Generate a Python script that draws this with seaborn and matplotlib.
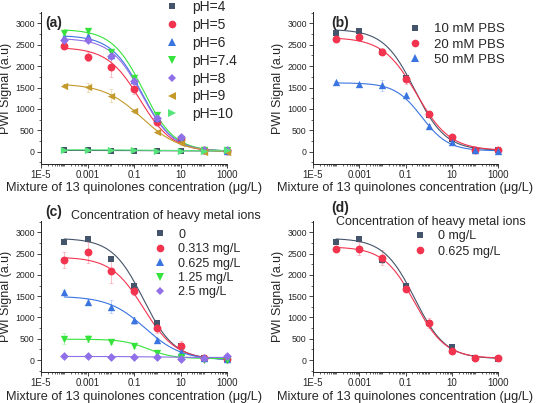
import numpy as np
import pandas as pd
import matplotlib
matplotlib.use("Agg")
import matplotlib.pyplot as plt
from matplotlib.lines import Line2D
from matplotlib.ticker import LogLocator, MultipleLocator, NullFormatter
import seaborn as sns

sns.set_style("ticks")
plt.rcParams['font.family'] = ['Liberation Sans', 'DejaVu Sans']

# ---------------- data ----------------
conc = [1e-4, 1e-3, 1e-2, 0.1, 1, 10, 100, 1000]

# panel (a) pH
a_labels = ["pH=4", "pH=5", "pH=6", "pH=7.4", "pH=8", "pH=9", "pH=10"]
a_ph4 = [30, 30, 28, 22, 15, 15, 10, 20]
a_ph5 = [2470, 2220, 1990, 1460, 690, 300, 30, 20]
a_ph6 = [2670, 2700, 2260, 1675, 780, 350, 30, 20]
a_ph74 = [2765, 2830, 2340, 1730, 857, 300, 30, 30]
a_ph8 = [2610, 2610, 2245, 1650, 780, 350, 30, 30]
a_ph9 = [1545, 1505, 1310, 950, 467, 195, 0, 0]
a_ph10 = [45, 38, 40, 30, 25, 20, 20, 30]
a_err = [[20] * 8,
         [40, 100, 250, 120, 60, 40, 20, 20],
         [40, 50, 60, 60, 50, 40, 20, 20],
         [40, 50, 60, 60, 50, 40, 20, 20],
         [40, 50, 80, 60, 60, 60, 20, 20],
         [40, 100, 150, 50, 40, 30, 20, 20],
         [20] * 8]
# 4-parameter logistic fit parameters (top, bottom, x0, slope)
a_top = [30, 2440, 2720, 2860, 2650, 1590, 45]
a_bottom = [15, 0, 10, 10, 10, -10, 20]
a_x0 = [1, 0.18, 0.22, 0.25, 0.22, 0.22, 1]
a_p = [0.5, 0.62, 0.65, 0.65, 0.65, 0.53, 0.5]

# panel (b) PBS
b_labels = ["10 mM PBS", "20 mM PBS", "50 mM PBS"]
b_10 = [2770, 2830, 2340, 1730, 860, 300, 50, 40]
b_20 = [2635, 2690, 2340, 1690, 880, 335, 40, 40]
b_50 = [1620, 1575, 1550, 1315, 610, 218, 40, 25]
b_err = [[40, 40, 60, 60, 50, 40, 20, 20],
         [80, 50, 80, 100, 80, 40, 20, 20],
         [40, 40, 130, 60, 40, 40, 20, 20]]
b_top = [2860, 2670, 1610]
b_bottom = [30, 30, 20]
b_x0 = [0.25, 0.3, 0.5]
b_p = [0.65, 0.6, 0.75]

# panel (c) heavy metal ions
c_title = "Concentration of heavy metal ions"
c_labels = ["0", "0.313 mg/L", "0.625 mg/L", "1.25 mg/L", "2.5 mg/L"]
c_0 = [2780, 2835, 2375, 1740, 867, 328, 55, 15]
c_313 = [2350, 2530, 2085, 1615, 742, 328, 55, 20]
c_625 = [1595, 1365, 1250, 937, 469, 195, 40, 15]
c_125 = [505, 505, 420, 328, 164, 62, 0, 0]
c_25 = [100, 85, 70, 78, 70, 31, 47, 94]
c_err = [[40, 40, 50, 60, 50, 40, 20, 20],
         [180, 250, 280, 80, 100, 120, 30, 20],
         [50, 60, 150, 80, 60, 40, 20, 20],
         [130, 80, 40, 40, 30, 20, 20, 20],
         [20, 20, 20, 20, 20, 20, 20, 20]]
c_top = [2860, 2420, 1500, 490, 85]
c_bottom = [10, 10, 0, 35, 60]
c_x0 = [0.25, 0.26, 0.3, 0.4, 1]
c_p = [0.65, 0.62, 0.55, 0.8, 0.5]

# panel (d)
d_labels = ["0 mg/L", "0.625 mg/L"]
d_0 = [2775, 2835, 2350, 1730, 862, 313, 55, 16]
d_625 = [2600, 2610, 2405, 1668, 862, 204, 40, 40]
d_err = [[40, 40, 60, 60, 60, 40, 20, 20],
         [50, 150, 180, 60, 120, 40, 20, 20]]
d_top = [2860, 2660]
d_bottom = [30, 40]
d_x0 = [0.25, 0.25]
d_p = [0.65, 0.65]

x_ticks = [1e-5, 1e-3, 1e-1, 10, 1000]
x_ticklabels = ["1E-5", "0.001", "0.1", "10", "1000"]
y_ticks = [0, 500, 1000, 1500, 2000, 2500, 3000]
xlabel = "Mixture of 13 quinolones concentration (\u03bcg/L)"
ylabel = "PWI Signal (a.u)"

# ---------------- style ----------------
GRAY = "#44546a"
RED = "#f2344f"
BLUE = "#3a74e0"
GREEN = "#36e33c"
PURPLE = "#9070e8"
OLIVE = "#c39a2b"
LGREEN = "#55e47a"

W, H = 536, 403
fig = plt.figure(figsize=(W / 100, H / 100), dpi=100)


def rect(l, t, r, b):
    return [l / W, 1 - b / H, (r - l) / W, (b - t) / H]


def style_axes(ax):
    ax.set_xscale("log")
    ax.set_xlim(1e-5, 1000)
    ax.set_ylim(-285, 3260)
    ax.set_xticks(x_ticks)
    ax.set_xticklabels(x_ticklabels)
    ax.xaxis.set_minor_locator(LogLocator(base=10, subs=np.arange(1, 10), numticks=30))
    ax.xaxis.set_minor_formatter(NullFormatter())
    ax.set_yticks(y_ticks)
    ax.yaxis.set_minor_locator(MultipleLocator(250))
    ax.tick_params(which="major", direction="out", length=3, width=0.6, pad=1.5)
    ax.tick_params(which="minor", direction="out", length=1.6, width=0.5)
    ax.tick_params(axis="x", labelsize=7)
    ax.tick_params(axis="y", labelsize=6.3)
    for s in ["left", "bottom"]:
        ax.spines[s].set_linewidth(0.7)
        ax.spines[s].set_color("#222222")
    sns.despine(ax=ax)
    ax.set_xlabel(xlabel, fontsize=9.2, labelpad=1.5)
    ax.set_ylabel(ylabel, fontsize=9, labelpad=2)


xfit = np.logspace(-4, 3, 200)


def draw(ax, series, errs, colors, markers, sizes, tops, bottoms, x0s, ps):
    for vals, err, col, mk, sz, t, b, x0, p in zip(series, errs, colors, markers, sizes, tops, bottoms, x0s, ps):
        yfit = b + (t - b) / (1 + (xfit / x0) ** p)
        sns.lineplot(x=xfit, y=yfit, color=col, lw=0.8, ax=ax, zorder=2)
        ax.errorbar(conc, vals, yerr=err, fmt="none", ecolor=col, alpha=0.3,
                    elinewidth=0.8, capsize=1.5, capthick=0.6, zorder=1, clip_on=False)
        sns.scatterplot(x=conc, y=vals, marker=mk, color=col, s=sz, linewidth=0,
                        ax=ax, zorder=3, clip_on=False, legend=False)


def legend(ax, labels, colors, markers, msizes, x, y, fs, spacing):
    handles = [Line2D([], [], ls="none", marker=m, color=c, markersize=ms, markeredgewidth=0)
               for c, m, ms in zip(colors, markers, msizes)]
    ax.legend(handles, labels, loc="upper left", bbox_to_anchor=(x / W, 1 - y / H),
              bbox_transform=fig.transFigure, frameon=False, fontsize=fs,
              handlelength=1.0, handletextpad=0.95, labelspacing=spacing,
              borderpad=0, borderaxespad=0)


# ---- (a)
axa = fig.add_axes(rect(41, 12.2, 227, 163.9))
cols_a = [GRAY, RED, BLUE, GREEN, PURPLE, OLIVE, LGREEN]
mks_a = ["s", "o", "^", "v", "D", "<", ">"]
sz_a = [22, 32, 28, 28, 20, 28, 28]
draw(axa, [a_ph4, a_ph5, a_ph6, a_ph74, a_ph8, a_ph9, a_ph10], a_err, cols_a, mks_a, sz_a,
     a_top, a_bottom, a_x0, a_p)
style_axes(axa)
legend(axa, a_labels, cols_a, mks_a, [4.5, 5.5, 5.2, 5.2, 4.2, 5.2, 5.2], 164.7, 0, 10, 0.28)
fig.text(45 / W, 1 - 23 / H, "(a)", fontsize=10, fontweight="bold", va="center", ha="left")

# ---- (b)
axb = fig.add_axes(rect(313, 12.2, 498, 163.9))
cols_b = [GRAY, RED, BLUE]
mks_b = ["s", "o", "^"]
draw(axb, [b_10, b_20, b_50], b_err, cols_b, mks_b, [22, 32, 28], b_top, b_bottom, b_x0, b_p)
style_axes(axb)
legend(axb, b_labels, cols_b, mks_b, [4.5, 5.5, 5.2], 408, 23, 9.5, 0.24)
fig.text(331 / W, 1 - 23 / H, "(b)", fontsize=10, fontweight="bold", va="center", ha="left")

# ---- (c)
axc = fig.add_axes(rect(41, 221.2, 227, 372.2))
cols_c = [GRAY, RED, BLUE, GREEN, PURPLE]
mks_c = ["s", "o", "^", "v", "D"]
draw(axc, [c_0, c_313, c_625, c_125, c_25], c_err, cols_c, mks_c, [22, 32, 28, 28, 20],
     c_top, c_bottom, c_x0, c_p)
style_axes(axc)
legend(axc, c_labels, cols_c, mks_c, [4.5, 5.5, 5.2, 5.2, 4.2], 153.8, 228.5, 9, 0.2)
fig.text(71 / W, 1 - 216 / H, c_title, fontsize=9, va="center", ha="left")
fig.text(45 / W, 1 - 212 / H, "(c)", fontsize=10, fontweight="bold", va="center", ha="left")

# ---- (d)
axd = fig.add_axes(rect(313, 221.2, 498, 372.2))
cols_d = [GRAY, RED]
mks_d = ["s", "o"]
draw(axd, [d_0, d_625], d_err, cols_d, mks_d, [22, 32], d_top, d_bottom, d_x0, d_p)
style_axes(axd)
legend(axd, d_labels, cols_d, mks_d, [4.5, 5.5], 413.5, 230, 9, 0.3)
fig.text(336 / W, 1 - 222 / H, c_title, fontsize=9, va="center", ha="left")
fig.text(331 / W, 1 - 208 / H, "(d)", fontsize=10, fontweight="bold", va="center", ha="left")

fig.savefig("out.png", dpi=100)
